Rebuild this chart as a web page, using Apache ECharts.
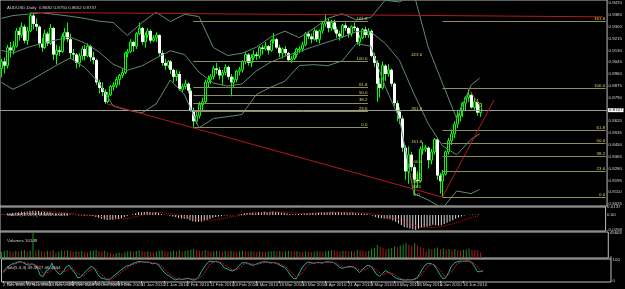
<!DOCTYPE html>
<html><head><meta charset="utf-8">
<script src="https://cdn.jsdelivr.net/npm/echarts@6/dist/echarts.min.js"></script>
<style>html,body{margin:0;padding:0;background:#000;}#c{width:625px;height:289px;}</style>
</head><body><div id="c"></div>
<script>
// ---------- data ----------
const symbolTitle = "AUDUSD,Daily";
const tickLabels = ["2 Nov 2009","12 Nov 2009","24 Nov 2009","4 Dec 2009","16 Dec 2009","29 Dec 2009","11 Jan 2010","21 Jan 2010","2 Feb 2010","11 Feb 2010","24 Feb 2010","8 Mar 2010","18 Mar 2010","30 Mar 2010","9 Apr 2010","21 Apr 2010","3 May 2010","13 May 2010","25 May 2010","4 Jun 2010","16 Jun 2010"];
const priceTicks = [0.8025,0.8110,0.8195,0.8280,0.8365,0.8450,0.8535,0.8620,0.8705,0.8790,0.8875,0.8960,0.9045,0.9130,0.9215,0.9300,0.9385,0.9470];
// [open, high, low, close]
const candles = [
[.9000,.9070,.8935,.9050],[.9050,.9080,.8965,.9020],[.9020,.9170,.9000,.9150],[.9150,.9190,.9080,.9130],[.9130,.9195,.9100,.9160],
[.9160,.9290,.9150,.9270],[.9270,.9295,.9200,.9240],[.9240,.9330,.9220,.9300],[.9300,.9315,.9180,.9200],[.9200,.9300,.9170,.9270],
[.9270,.9405,.9260,.9380],[.9380,.9395,.9280,.9320],[.9320,.9360,.9270,.9300],[.9300,.9310,.9150,.9180],[.9180,.9220,.9120,.9150],
[.9150,.9280,.9140,.9250],[.9250,.9265,.9160,.9180],[.9180,.9320,.9170,.9290],[.9290,.9300,.9060,.9100],[.9100,.9170,.9030,.9130],
[.9130,.9160,.9090,.9120],[.9120,.9250,.9110,.9230],[.9230,.9290,.9200,.9260],[.9260,.9330,.9190,.9210],[.9210,.9250,.9070,.9110],
[.9110,.9140,.9060,.9100],[.9100,.9110,.9000,.9040],[.9040,.9110,.9010,.9090],[.9090,.9160,.9060,.9140],[.9140,.9170,.9060,.9090],
[.9090,.9180,.9080,.9160],[.9160,.9170,.9050,.9080],[.9080,.9120,.9030,.9060],[.9060,.9070,.8880,.8900],[.8900,.8920,.8820,.8860],
[.8860,.8900,.8800,.8830],[.8830,.8850,.8745,.8760],[.8760,.8830,.8750,.8810],[.8810,.8880,.8800,.8870],[.8870,.8900,.8840,.8880],
[.8880,.8940,.8860,.8920],[.8920,.8960,.8880,.8950],[.8950,.9000,.8930,.8970],[.8970,.9120,.8960,.9110],[.9110,.9140,.9080,.9120],
[.9120,.9210,.9110,.9190],[.9190,.9200,.9120,.9160],[.9160,.9260,.9140,.9250],[.9250,.9330,.9240,.9290],[.9290,.9300,.9170,.9190],
[.9190,.9260,.9150,.9240],[.9240,.9290,.9220,.9270],[.9270,.9280,.9180,.9200],[.9200,.9240,.9190,.9220],[.9220,.9260,.9190,.9240],
[.9240,.9245,.9090,.9110],[.9110,.9130,.9020,.9040],[.9040,.9070,.8990,.9020],[.9020,.9060,.9000,.9050],[.9050,.9060,.8960,.8990],
[.8990,.9000,.8900,.8940],[.8940,.8990,.8910,.8960],[.8960,.8980,.8840,.8850],[.8850,.8890,.8830,.8870],[.8870,.8920,.8850,.8890],
[.8890,.8900,.8820,.8840],[.8840,.8860,.8690,.8700],[.8700,.8720,.8575,.8620],[.8620,.8700,.8600,.8660],[.8660,.8760,.8640,.8740],
[.8740,.8790,.8700,.8760],[.8760,.8920,.8750,.8900],[.8900,.8950,.8860,.8920],[.8920,.8960,.8890,.8940],[.8940,.9020,.8920,.9000],
[.9000,.9040,.8960,.8990],[.8990,.9010,.8920,.8950],[.8950,.8990,.8880,.8970],[.8970,.9030,.8950,.9010],[.9010,.9020,.8920,.8940],
[.8940,.8960,.8800,.8900],[.8900,.8940,.8860,.8920],[.8920,.8990,.8900,.8980],[.8980,.9010,.8950,.8990],[.8990,.9060,.8970,.9050],
[.9050,.9120,.9030,.9100],[.9100,.9110,.9020,.9040],[.9040,.9100,.9010,.9080],[.9080,.9130,.9060,.9100],[.9100,.9120,.9060,.9090],
[.9090,.9160,.9070,.9150],[.9150,.9170,.9100,.9140],[.9140,.9190,.9130,.9160],[.9160,.9170,.9100,.9130],[.9130,.9210,.9120,.9200],
[.9200,.9255,.9180,.9210],[.9210,.9220,.9140,.9150],[.9150,.9170,.9080,.9110],[.9110,.9150,.9070,.9140],[.9140,.9160,.9090,.9110],
[.9110,.9120,.9050,.9060],[.9060,.9090,.9040,.9070],[.9070,.9120,.9060,.9100],[.9100,.9150,.9080,.9140],[.9140,.9160,.9110,.9140],
[.9140,.9190,.9120,.9170],[.9170,.9260,.9160,.9250],[.9250,.9270,.9210,.9230],[.9230,.9250,.9180,.9210],[.9210,.9290,.9200,.9270],
[.9270,.9280,.9190,.9210],[.9210,.9280,.9180,.9270],[.9270,.9340,.9250,.9320],[.9320,.9385,.9300,.9340],[.9340,.9360,.9260,.9290],
[.9290,.9350,.9270,.9330],[.9330,.9350,.9260,.9280],[.9280,.9300,.9220,.9250],[.9250,.9270,.9200,.9230],[.9230,.9320,.9220,.9310],
[.9310,.9330,.9270,.9290],[.9290,.9300,.9220,.9250],[.9250,.9310,.9230,.9300],[.9300,.9330,.9270,.9290],[.9290,.9300,.9170,.9190],
[.9190,.9240,.9160,.9220],[.9220,.9290,.9210,.9280],[.9280,.9300,.9220,.9240],[.9240,.9290,.9220,.9270],[.9270,.9280,.9080,.9090],
[.9090,.9110,.9010,.9040],[.9040,.9060,.8760,.8890],[.8890,.8930,.8790,.8860],[.8860,.9050,.8850,.9020],[.9020,.9030,.8910,.8960],
[.8960,.9030,.8940,.8990],[.8990,.9000,.8870,.8890],[.8890,.8900,.8730,.8750],[.8750,.8770,.8620,.8690],[.8690,.8720,.8600,.8640],
[.8640,.8660,.8400,.8430],[.8430,.8450,.8200,.8260],[.8260,.8440,.8170,.8380],[.8380,.8400,.8260,.8290],[.8290,.8310,.8090,.8200],
[.8200,.8260,.8140,.8190],[.8190,.8440,.8180,.8420],[.8420,.8470,.8380,.8420],[.8420,.8450,.8400,.8430],[.8430,.8440,.8280,.8340],
[.8340,.8420,.8310,.8400],[.8400,.8500,.8380,.8490],[.8490,.8500,.8200,.8230],[.8230,.8250,.8100,.8190],[.8190,.8270,.8075,.8240],
[.8240,.8410,.8230,.8400],[.8400,.8500,.8380,.8480],[.8480,.8560,.8450,.8530],[.8530,.8620,.8500,.8600],[.8600,.8700,.8570,.8660],
[.8660,.8720,.8620,.8700],[.8700,.8760,.8650,.8750],[.8750,.8800,.8700,.8790],[.8790,.8859,.8760,.8810],[.8810,.8830,.8710,.8720],
[.8720,.8790,.8700,.8760],[.8760,.8780,.8660,.8682],[.8682,.8750,.8652,.8747]
];
// Bollinger bands sampled [barIndex, value]
const bbUpper = [[0,.9360],[4,.9380],[9,.9390],[14,.9400],[19,.9388],[24,.9375],[29,.9360],[34,.9340],[39,.9330],[44,.9237],[49,.9328],[54,.9404],[59,.9337],[64,.9389],[69,.9373],[74,.9150],[79,.9093],[84,.9109],[89,.9152],[94,.9225],[99,.9268],[104,.9221],[109,.9287],[114,.9360],[119,.9394],[124,.9348],[129,.9367],[134,.9490],[139,.9478],[144,.9540],[149,.9155],[154,.8894],[159,.8639],[164,.8880],[167,.8930]];
const bbMiddle = [[0,.9130],[4,.9110],[9,.9150],[14,.9180],[19,.9204],[24,.9225],[29,.9184],[34,.9120],[39,.9030],[44,.8987],[49,.9018],[54,.9074],[59,.9127],[64,.9099],[69,.8973],[74,.8895],[79,.8873],[84,.8889],[89,.8982],[94,.9045],[99,.9088],[104,.9121],[109,.9157],[114,.9190],[119,.9224],[124,.9264],[129,.9263],[134,.9180],[139,.9058],[144,.8820],[149,.8605],[154,.8444],[159,.8379],[164,.8490],[167,.8530]];
const bbLower = [[0,.8900],[4,.8850],[9,.8900],[14,.8960],[19,.9020],[24,.9075],[29,.9008],[34,.8900],[39,.8730],[44,.8700],[49,.8680],[54,.8744],[59,.8917],[64,.8809],[69,.8573],[74,.8640],[79,.8653],[84,.8669],[89,.8812],[94,.8865],[99,.8908],[104,.9021],[109,.9027],[114,.9020],[119,.9054],[124,.9180],[129,.9159],[134,.8870],[139,.8638],[144,.8100],[149,.8055],[154,.7994],[159,.8119],[164,.8100],[167,.8130]];
// MACD(12,26,9) main per bar and signal sampled
const macdMain = [
.0005,.0003,.0012,.0018,.0025,.0038,.0045,.0055,.0055,.0060,
.0072,.0075,.0075,.0068,.0058,.0055,.0048,.0050,.0035,.0028,
.0020,.0022,.0025,.0022,.0012,.0004,-.0006,-.0010,-.0008,-.0012,
-.0008,-.0013,-.0018,-.0035,-.0050,-.0064,-.0080,-.0086,-.0085,-.0082,
-.0075,-.0066,-.0056,-.0035,-.0018,.0002,.0013,.0030,.0046,.0048,
.0052,.0056,.0052,.0050,.0048,.0035,.0018,.0004,-.0004,-.0015,
-.0028,-.0035,-.0052,-.0060,-.0064,-.0072,-.0090,-.0110,-.0118,-.0116,
-.0112,-.0095,-.0082,-.0068,-.0050,-.0036,-.0028,-.0020,-.0010,-.0008,
-.0006,-.0005,.0002,.0008,.0018,.0030,.0033,.0038,.0043,.0045,
.0050,.0052,.0055,.0054,.0058,.0060,.0056,.0048,.0044,.0038,
.0025,.0016,.0013,.0015,.0016,.0019,.0028,.0032,.0034,.0040,
.0038,.0042,.0047,.0049,.0050,.0056,.0057,.0052,.0046,.0048,
.0047,.0043,.0043,.0042,.0032,.0026,.0026,.0022,.0022,.0005,
-.0012,-.0035,-.0054,-.0055,-.0062,-.0064,-.0075,-.0097,-.0118,-.0148,
-.0175,-.0210,-.0222,-.0236,-.0250,-.0256,-.0240,-.0226,-.0212,-.0205,
-.0192,-.0172,-.0180,-.0185,-.0178,-.0158,-.0135,-.0112,-.0090,-.0066,
-.0045,-.0025,-.0010,.0004,.0004,.0008,.0006,.0010];
const macdSignal = [[0,.0008],[4,.0010],[8,.0028],[12,.0056],[16,.0063],[20,.0049],[24,.0029],[28,.0009],[32,-.0007],[36,-.0032],[40,-.0064],[44,-.0065],[48,-.0018],[52,.0031],[56,.0045],[60,.0018],[64,-.0026],[68,-.0070],[72,-.0095],[76,-.0078],[80,-.0034],[84,-.0005],[88,.0018],[92,.0040],[96,.0053],[100,.0049],[104,.0030],[108,.0022],[112,.0033],[116,.0046],[120,.0050],[124,.0046],[128,.0034],[132,.0004],[136,-.0037],[140,-.0094],[144,-.0170],[148,-.0225],[152,-.0215],[156,-.0180],[160,-.0128],[164,-.0053],[167,-.0013]];
const macdTicks = [0.0137, 0, -0.0258];
// Volumes per bar
const volumes = [
11200,12500,13800,12100,10900,12600,11800,13200,14500,11900,13100,44800,13600,14900,12200,11500,13000,12400,14100,9800,
11600,13500,12900,14200,13100,10800,12300,11900,12700,11300,10600,12800,13400,15100,12600,11200,12900,10400,8600,7200,
9100,9800,8200,10500,11800,12400,11300,12600,13400,12100,11500,12300,11000,9800,11200,13100,14200,12800,11600,12400,
13300,12100,13800,11700,12500,13900,15200,16400,14100,13200,12600,14300,12900,11800,12200,13100,12400,11900,12800,11600,
13000,12300,11400,12100,13200,12600,11800,12400,11500,10900,12000,11300,10700,11600,12300,12900,11800,12500,11700,12200,
13100,12400,11600,12200,11400,10800,12100,11500,10900,11800,12600,11900,11300,12400,13200,14100,13500,12700,12000,13300,
12500,11800,12400,11700,14600,13800,12900,12200,13000,16800,18200,23500,20400,17600,15900,16800,18100,21300,19400,22800,
24600,27300,23900,21800,26500,22400,20100,17800,12300,16900,15800,17200,18900,16300,17500,15200,16100,14800,15600,14200,
13500,14900,15300,16800,15100,14400,13900,10149];
const volumeMax = 45605;
// Stochastic(5,3,3): %K per bar, %D sampled
const stochK = [
45,58,72,80,84,90,92,88,80,75, 82,78,60,25,22,48,55,85,55,40,
30,45,68,75,55,38,15,18,35,48, 62,70,55,30,15,12,6,5,18,30,
40,52,62,72,75,82,88,92,93,90, 90,88,82,85,78,60,42,30,22,12,
5,10,8,8,14,10,5,6,18,45, 65,85,95,92,93,90,80,62,58,50,
48,55,72,85,88,86,78,75,80,85, 90,92,90,86,88,85,78,70,65,48,
28,12,10,35,62,80,90,88,84,88, 88,85,90,92,90,88,78,65,60,64,
68,70,65,55,40,52,68,75,70,52, 30,22,35,50,42,35,20,12,8,5,
4,6,5,8,15,35,60,78,85,82, 75,55,30,10,15,40,70,85,92,95,
94,95,96,88,70,45,44,49.3827];
const stochD = [[0,40],[2,58],[4,79],[6,89],[8,87],[10,79],[12,73],[14,36],[16,42],[18,65],[20,42],[22,48],[24,66],[26,36],[28,23],[30,48],[32,62],[34,33],[36,11],[38,10],[40,29],[42,51],[44,70],[46,82],[48,91],[50,91],[52,87],[54,82],[56,60],[58,31],[60,13],[62,8],[64,10],[66,10],[68,10],[70,36],[72,82],[74,93],[76,88],[78,67],[80,52],[82,58],[84,82],[86,83],[88,78],[90,85],[92,91],[94,88],[96,83],[98,71],[100,47],[102,17],[104,36],[106,77],[108,87],[110,87],[112,88],[114,91],[116,85],[118,68],[120,64],[122,68],[124,53],[126,53],[128,71],[130,51],[132,29],[134,42],[136,32],[138,13],[140,6],[142,5],[144,9],[146,37],[148,74],[150,81],[152,53],[154,18],[156,42],[158,82],[160,94],[162,95],[164,85],[166,53],[167,46.4444]];
// Drawn objects (bar index, price)
const bidPrice = 0.8747;
const fib1 = {from:67, to:128, levels:[["161.8",.9340],["100.0",.9053],["61.8",.8865],["50.0",.8809],["38.2",.8753],["23.6",.8690],["0.0",.8575]]};
const fib2 = {from:154, to:211, levels:[["161.8",.9341],["100.0",.8859],["61.8",.8557],["50.0",.8463],["38.2",.8370],["23.6",.8262],["0.0",.8075]]};
const fib3LabelBar = 145;
const fib3Levels = [["423.6",.9078],["261.8",.8695],["161.8",.8459],["100.0",.8312],["61.8",.8221],["50.0",.8194],["38.2",.8166],["23.6",.8131],["0.0",.8075]];
const redLines = [[[10,.9403],[210,.9371]],[[37,.8744],[154,.8075]],[[154,.8075],[172,.8773]],[[163,.8859],[168,.8705]]];
const totalSlots = 212;

// ---------- chart ----------
const chart = echarts.init(document.getElementById('c'), null, {renderer:'canvas'});
const cats = Array.from({length: totalSlots}, (_, i) => String(i));
const FONT = '"Liberation Sans Narrow", "Liberation Sans", sans-serif';
const FS = 4.4;
const TXT = '#d0d0d0';
const BORDER = '#bdbdbd';
const FIBTXT = '#d8d070';
const n = candles.length;
const last = candles[n-1];

function xAxisFor(grid, showLabels){
  return {type:'category', gridIndex:grid, data:cats, boundaryGap:true,
    axisLine:{show:false},
    axisTick: showLabels ? {show:true, alignWithLabel:true, length:2, lineStyle:{color:BORDER},
      interval:(i)=> i % 8 === 0 && i < n} : {show:false},
    axisLabel: showLabels ? {show:true, interval:(i)=> i % 8 === 0 && i < n, align:'left', margin:1,
      color:TXT, fontSize:FS, fontFamily:FONT, formatter:(v, i)=> tickLabels[Math.round(Number(v)/8)] || ''} : {show:false},
    splitLine:{show:false}};
}
function yAxisFor(grid, min, max, ticks, fmt){
  return {type:'value', gridIndex:grid, position:'right', min, max, scale:true,
    axisLine:{show:false}, axisTick:{show:false}, splitLine:{show:false},
    axisLabel:{show:true, customValues:ticks, formatter:fmt, color:TXT, fontSize:FS, fontFamily:FONT, margin:1.5}};
}

function renderCandle(params, api){
  const i = api.value(0), o = api.value(1), h = api.value(2), l = api.value(3), c = api.value(4);
  const pO = api.coord([i, o]), pC = api.coord([i, c]), pH = api.coord([i, h]), pL = api.coord([i, l]);
  const x = Math.round(pO[0]) + 0.5;
  const top = Math.min(pO[1], pC[1]), bot = Math.max(pO[1], pC[1]);
  const kids = [{type:'line', shape:{x1:x, y1:pH[1], x2:x, y2:pL[1]}, style:{stroke:'#00ff00', lineWidth:1}}];
  if (c >= o) kids.push({type:'rect', shape:{x:x-1, y:top, width:2, height:Math.max(bot-top, 1)}, style:{fill:'#000', stroke:'#00ff00', lineWidth:1}});
  else kids.push({type:'rect', shape:{x:x-1.5, y:top, width:3, height:Math.max(bot-top, 1)}, style:{fill:'#ffffff'}});
  return {type:'group', children:kids};
}

const fibLines = [];
[fib1, fib2].forEach(f => f.levels.forEach(([name, p]) => {
  fibLines.push([{coord:[f.from, p], lineStyle:{color:'#8e8e58', width:1, type:'solid'},
      label:{show:true, position:'insideEndTop', formatter:name, color:FIBTXT, fontSize:FS, fontFamily:FONT, distance:0.5}},
    {coord:[f.to, p]}]);
}));
const trendLines = redLines.map(seg => [{coord:seg[0], lineStyle:{color:'#b31b1b', width:1, type:'solid'}, label:{show:false}}, {coord:seg[1]}]);
const fib3Points = fib3Levels.map(([name, p]) => ({name, coord:[fib3LabelBar, p], value:name}));

const volData = volumes.map((v, i) => ({value:v, itemStyle:{color: (i > 0 && v < volumes[i-1]) ? '#b01c1c' : '#1f8f1f'}}));

const ts = {color:TXT, fontSize:FS, fontWeight:'normal', fontFamily:FONT};
const option = {
  backgroundColor:'#000',
  animation:false,
  textStyle:{fontFamily:FONT},
  title:[
    {text:`${symbolTitle}  ${last[0].toFixed(4)} ${last[1].toFixed(4)} ${last[2].toFixed(4)} ${last[3].toFixed(4)}`, left:2, top:1, textStyle:ts},
    {text:`MACD(12,26,9) ${macdMain[n-1].toFixed(4)} ${macdSignal[macdSignal.length-1][1].toFixed(4)}`, left:2, top:208, textStyle:ts},
    {text:`Volumes ${volumes[n-1]}`, left:2, top:233.5, textStyle:ts},
    {text:`Sto(5,3,3) ${stochK[n-1].toFixed(4)} ${stochD[stochD.length-1][1].toFixed(4)}`, left:2, top:260.5, textStyle:ts},
    {text:'FXOpen: MetaTrader, \u00a9 2001-2009 MetaQuotes Software Corp.', left:2, top:277, textStyle:ts}
  ],
  grid:[
    {left:0, right:14, top:0, height:206, show:true, borderColor:BORDER, borderWidth:1, backgroundColor:'transparent'},
    {left:0, right:14, top:207, height:24, show:true, borderColor:BORDER, borderWidth:1},
    {left:0, right:14, top:232, height:26, show:true, borderColor:BORDER, borderWidth:1},
    {left:0, right:14, top:259, height:23, show:true, borderColor:BORDER, borderWidth:1}
  ],
  xAxis:[xAxisFor(0,false), xAxisFor(1,false), xAxisFor(2,false), xAxisFor(3,true)],
  yAxis:[
    yAxisFor(0, 0.8011, 0.9492, priceTicks, v => v.toFixed(4)),
    yAxisFor(1, -0.0280, 0.0140, macdTicks, v => v === 0 ? '0.00' : v.toFixed(4)),
    yAxisFor(2, 0, 47000, [volumeMax, 0], v => String(v)),
    yAxisFor(3, -5, 105, [100, 0], v => String(v))
  ],
  series:[
    {type:'line', name:'bbU', xAxisIndex:0, yAxisIndex:0, data:bbUpper, showSymbol:false, symbol:'none', lineStyle:{color:'#5f8a74', width:1}, clip:true, silent:true},
    {type:'line', name:'bbL', xAxisIndex:0, yAxisIndex:0, data:bbLower, showSymbol:false, symbol:'none', lineStyle:{color:'#5f8a74', width:1}, clip:true, silent:true,
      markPoint:{silent:true, animation:false, symbol:'circle', symbolSize:0.01, itemStyle:{color:'transparent'},
        label:{show:true, position:'top', distance:0.3, formatter:'{b}', color:FIBTXT, fontSize:FS, fontFamily:FONT},
        data:fib3Points}},
    {type:'line', name:'bbM', xAxisIndex:0, yAxisIndex:0, data:bbMiddle, showSymbol:false, symbol:'none', lineStyle:{color:'#5f8a74', width:1}, clip:true, silent:true,
      markLine:{silent:true, symbol:['none','none'], animation:false,
        data:[
          {yAxis:bidPrice, lineStyle:{color:'#9a9a9a', width:1, type:'solid'},
            label:{show:true, position:'end', formatter:bidPrice.toFixed(4), backgroundColor:'#ffffff', color:'#000', fontSize:FS, fontFamily:FONT, padding:[0,1,0,1], distance:1}},
          ...fibLines, ...trendLines]}},
    {type:'custom', name:'price', xAxisIndex:0, yAxisIndex:0, renderItem:renderCandle,
      encode:{x:0, y:[1,2,3,4]}, data:candles.map((r, i) => [i, r[0], r[1], r[2], r[3]]), clip:true, silent:true},
    {type:'bar', name:'macd', xAxisIndex:1, yAxisIndex:1, data:macdMain, barWidth:1, itemStyle:{color:'#d8d8d8'}, silent:true},
    {type:'line', name:'signal', xAxisIndex:1, yAxisIndex:1, data:macdSignal, symbol:'none', lineStyle:{color:'#d01010', width:1, type:[1,1]}, silent:true},
    {type:'bar', name:'vol', xAxisIndex:2, yAxisIndex:2, data:volData, barWidth:1, silent:true},
    {type:'line', name:'k', xAxisIndex:3, yAxisIndex:3, data:stochK, symbol:'none', lineStyle:{color:'#20b2aa', width:1}, silent:true},
    {type:'line', name:'d', xAxisIndex:3, yAxisIndex:3, data:stochD, symbol:'none', lineStyle:{color:'#d01818', width:1, type:[2,1]}, silent:true}
  ]
};
chart.setOption(option);
</script>
</body></html>
